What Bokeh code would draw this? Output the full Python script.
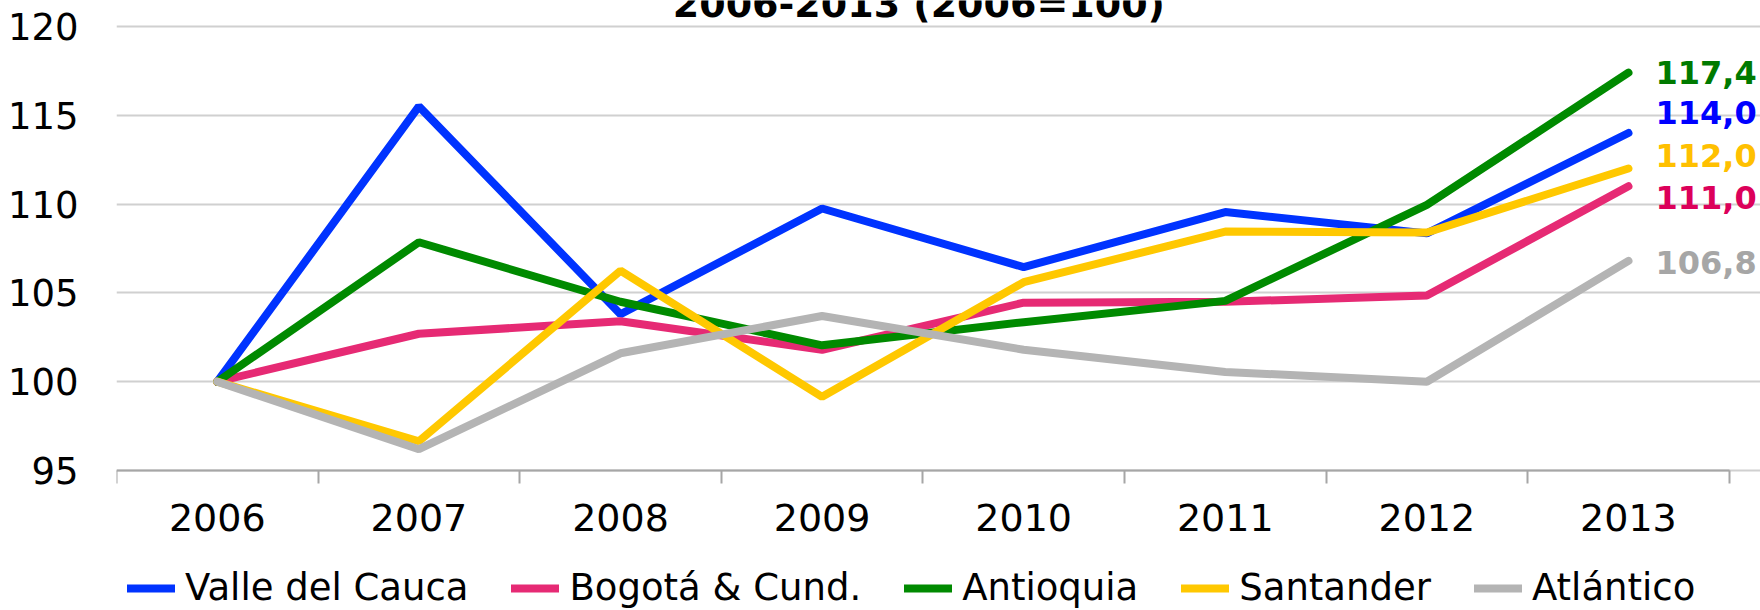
from bokeh.plotting import figure
from bokeh.models import FixedTicker, Legend, LegendItem, Label, Range1d
from bokeh.embed import file_html
from bokeh.resources import INLINE

# ---- data ----
years = ["2006", "2007", "2008", "2009", "2010", "2011", "2012", "2013"]
series_names = ["Valle del Cauca", "Bogotá & Cund.", "Antioquia", "Santander", "Atlántico"]
valle = [100.0, 115.5, 103.8, 109.75, 106.45, 109.55, 108.35, 114.0]
bogota = [100.0, 102.7, 103.4, 101.8, 104.45, 104.5, 104.85, 111.0]
antioquia = [100.0, 107.85, 104.5, 102.05, 103.35, 104.55, 109.95, 117.4]
santander = [100.0, 96.65, 106.25, 99.15, 105.6, 108.45, 108.4, 112.0]
atlantico = [100.0, 96.2, 101.6, 103.7, 101.8, 100.55, 100.0, 106.8]
y_ticks = [95, 100, 105, 110, 115, 120]
title_text = "2006-2013 (2006=100)"

# ---- styles ----
line_colors = ["#0033FF", "#E62A74", "#008A00", "#FFC800", "#B4B4B4"]
label_colors = ["#0000FF", "#DC005A", "#007A00", "#FFC000", "#A6A6A6"]
label_dy = [21, -11, 0, 13, -2]
FONT = "DejaVu Sans"

all_series = [valle, bogota, antioquia, santander, atlantico]
n = len(years)
xs = [i + 0.5 for i in range(n)]
y_lo, y_hi = y_ticks[0], y_ticks[-1]

p = figure(width=1760, height=610, output_backend="svg", toolbar_location=None,
           x_range=Range1d(0, n + 0.155), y_range=Range1d(87.12, 121.46),
           min_border_left=116, min_border_right=0, min_border_top=0, min_border_bottom=0)
p.outline_line_color = None
p.background_fill_color = "white"
p.border_fill_color = "white"

# x axis placed at the bottom of the value range
xa = p.xaxis[0]
xa.fixed_location = y_lo
xa.bounds = (0, n)
xa.ticker = FixedTicker(ticks=xs, minor_ticks=list(range(n + 1)))
xa.major_label_overrides = {x: y for x, y in zip(xs, years)}
xa.major_tick_out = 0
xa.major_tick_in = 0
xa.minor_tick_out = 13
xa.minor_tick_in = 0
xa.minor_tick_line_color = "#A6A6A6"
xa.minor_tick_line_width = 2
xa.axis_line_color = "#A6A6A6"
xa.axis_line_width = 2
xa.major_label_text_font = FONT
xa.major_label_text_font_size = "38px"
xa.major_label_text_color = "black"
xa.major_label_standoff = 20

ya = p.yaxis[0]
ya.ticker = FixedTicker(ticks=y_ticks)
ya.axis_line_color = None
ya.major_tick_line_color = None
ya.minor_tick_line_color = None
ya.major_tick_out = 0
ya.major_tick_in = 0
ya.major_label_text_font = FONT
ya.major_label_text_font_size = "37px"
ya.major_label_text_color = "black"
ya.major_label_standoff = 38

p.xgrid.grid_line_color = None
p.ygrid.ticker = FixedTicker(ticks=y_ticks)
p.ygrid.bounds = (0, n)
p.ygrid.grid_line_color = "#D0D0D0"
p.ygrid.grid_line_width = 2

renderers = []
for vals, col in zip(all_series, line_colors):
    r = p.line(xs, vals, line_color=col, line_width=8, line_cap="round")
    renderers.append(r)

for vals, col, dy in zip(all_series, label_colors, label_dy):
    v = vals[-1]
    p.add_layout(Label(x=xs[-1], y=v, x_offset=27, y_offset=dy,
                       text=f"{v:.1f}".replace(".", ","),
                       text_color=col, text_font=FONT, text_font_size="32px",
                       text_font_style="bold", text_baseline="middle", text_align="left"))

p.add_layout(Label(x=n / 2, y=121.46, x_offset=-4, y_offset=-3, text=title_text,
                   text_font=FONT, text_font_size="38px", text_font_style="bold",
                   text_color="black", text_align="center", text_baseline="alphabetic"))

legend = Legend(items=[LegendItem(label=nm, renderers=[r]) for nm, r in zip(series_names, renderers)],
                location=(11, 1), orientation="horizontal",
                glyph_width=48, glyph_height=40, label_height=40, label_standoff=10, spacing=43,
                padding=0, margin=0, border_line_alpha=0, background_fill_alpha=0,
                label_text_font=FONT, label_text_font_size="37px", label_text_color="black")
p.add_layout(legend)

open("out.html", "w").write(file_html(p, INLINE))
